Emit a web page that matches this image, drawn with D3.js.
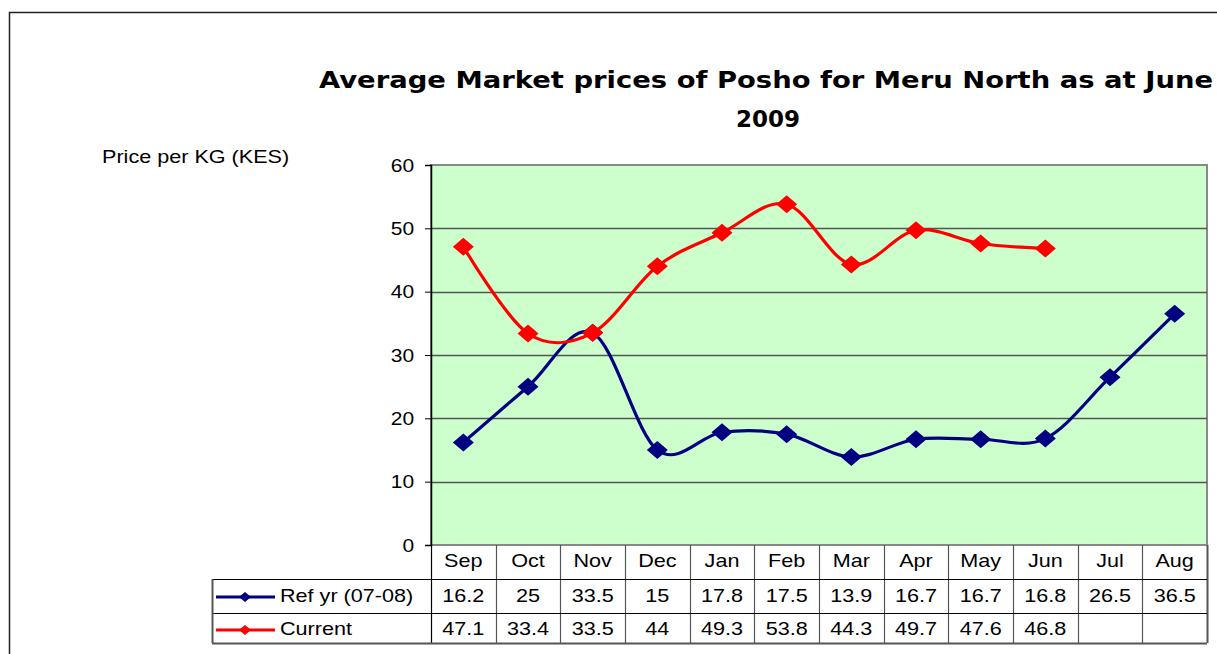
<!DOCTYPE html>
<html>
<head>
<meta charset="utf-8">
<script src="https://cdn.jsdelivr.net/npm/d3@7"></script>
<style>
  html, body { margin: 0; padding: 0; background: #fff; }
  svg { display: block; }
  text { font-family: "Liberation Sans", Arial, sans-serif; fill: #000; }
</style>
</head>
<body>
<svg id="chart" width="1217" height="654"></svg>
<script>
const months = ["Sep","Oct","Nov","Dec","Jan","Feb","Mar","Apr","May","Jun","Jul","Aug"];
const refYear = [16.2, 25, 33.5, 15, 17.8, 17.5, 13.9, 16.7, 16.7, 16.8, 26.5, 36.5];
const current = [47.1, 33.4, 33.5, 44, 49.3, 53.8, 44.3, 49.7, 47.6, 46.8, null, null];
const yTicks = [0, 10, 20, 30, 40, 50, 60];
const seriesNames = ["Ref yr (07-08)", "Current"];
const seriesColors = ["#000080", "#FF0000"];
const titleLines = ["Average Market prices of Posho for Meru North as at June", "2009"];
const yLabel = "Price per KG (KES)";

const svg = d3.select("#chart");
const plot = {left: 431, right: 1207, top: 165, bottom: 545};
const tableLeft = 212;
const rowY = [545, 579, 613, 643];
const SX = 1.2; // horizontal stretch of text as in reference

function stext(parent, xv, yv, str, size, anchor) {
  return parent.append("text")
    .attr("transform", `translate(${xv},${yv}) scale(${SX},1)`)
    .attr("text-anchor", anchor || "start")
    .style("font-size", size + "px").text(str);
}

// outer frame
svg.append("rect").attr("x", 9.5).attr("y", 12.5).attr("width", 1300).attr("height", 700)
  .attr("fill", "#fff").attr("stroke", "#222").attr("stroke-width", 1.5);

// title
svg.append("text").attr("x", 766).attr("y", 88).attr("text-anchor", "middle")
  .attr("textLength", 894).attr("lengthAdjust", "spacingAndGlyphs")
  .style("font-family", "'DejaVu Sans', sans-serif").style("font-weight", "bold").style("font-size", "23px")
  .text(titleLines[0]);
svg.append("text").attr("x", 768).attr("y", 127).attr("text-anchor", "middle")
  .style("font-family", "'DejaVu Sans', sans-serif").style("font-weight", "bold").style("font-size", "23px")
  .text(titleLines[1]);

// y label
stext(svg, 102, 163, yLabel, 18);

const x = d3.scaleBand().domain(months).range([plot.left, plot.right]);
const y = d3.scaleLinear().domain([0, 60]).range([plot.bottom, plot.top]);

// plot background
svg.append("rect").attr("x", plot.left).attr("y", plot.top)
  .attr("width", plot.right - plot.left).attr("height", plot.bottom - plot.top)
  .attr("fill", "#CCFFCC").attr("stroke", "#888").attr("stroke-width", 2);

// gridlines
svg.append("g").selectAll("line").data(yTicks.filter(d => d > 0 && d < 60)).join("line")
  .attr("x1", plot.left).attr("x2", plot.right)
  .attr("y1", d => Math.round(y(d)) + 0.5).attr("y2", d => Math.round(y(d)) + 0.5)
  .attr("stroke", "#555").attr("stroke-width", 1.5);

// y axis
const yAxis = d3.axisLeft(y).tickValues(yTicks).tickSize(6).tickPadding(8);
const ga = svg.append("g").attr("transform", `translate(${plot.left},0)`).call(yAxis);
ga.select(".domain").attr("stroke", "#000").attr("stroke-width", 1.5);
ga.selectAll(".tick line").attr("stroke", "#000");
ga.selectAll(".tick text").style("font-family", "'Liberation Sans', Arial, sans-serif")
  .style("font-size", "17.5px").attr("fill", "#000").attr("dy", "0.35em")
  .attr("transform", `scale(${SX},1)`);

// lines
const cx = d => x(d) + x.bandwidth() / 2;
function diamond(g, cxv, cyv, color, hw, hh) {
  g.append("path").attr("d", `M${cxv},${cyv - hh}L${cxv + hw},${cyv}L${cxv},${cyv + hh}L${cxv - hw},${cyv}Z`)
    .attr("fill", color);
}
[refYear, current].forEach((vals, si) => {
  const data = months.map((m, i) => ({m, v: vals[i]})).filter(d => d.v !== null);
  const line = d3.line().x(d => cx(d.m)).y(d => y(d.v))
    .curve(d3.curveCatmullRom.alpha(0));
  const g = svg.append("g");
  g.append("path").attr("d", line(data))
    .attr("fill", "none").attr("stroke", seriesColors[si]).attr("stroke-width", 3.2);
  data.forEach(d => diamond(g, cx(d.m), y(d.v), seriesColors[si], 10.5, 9));
});

// data table
const tg = svg.append("g");
const colEdges = months.map(m => x(m)).concat([plot.right]);
colEdges.forEach((xv, i) => {
  tg.append("line").attr("x1", Math.round(xv) + 0.5).attr("x2", Math.round(xv) + 0.5)
    .attr("y1", rowY[0]).attr("y2", rowY[3])
    .attr("stroke", i === 0 ? "#000" : "#555").attr("stroke-width", i === colEdges.length - 1 ? 2 : 1.2);
});
[rowY[1], rowY[2], rowY[3]].forEach((yv, i) => {
  tg.append("line").attr("x1", tableLeft).attr("x2", plot.right)
    .attr("y1", yv + 0.5).attr("y2", yv + 0.5)
    .attr("stroke", i === 2 ? "#555" : "#000").attr("stroke-width", i === 2 ? 2 : 1.2);
});
tg.append("line").attr("x1", tableLeft + 0.5).attr("x2", tableLeft + 0.5)
  .attr("y1", rowY[1]).attr("y2", rowY[3]).attr("stroke", "#555").attr("stroke-width", 2);

// month labels
months.forEach(m => stext(tg, cx(m), 567, m, 18, "middle"));
// values + legend keys
[refYear, current].forEach((vals, si) => {
  const base = si === 0 ? 602 : 635;
  months.forEach((m, i) => {
    if (vals[i] !== null) stext(tg, cx(m), base, vals[i], 18, "middle");
  });
  const ly = si === 0 ? 597 : 630;
  tg.append("line").attr("x1", 216).attr("x2", 275).attr("y1", ly).attr("y2", ly)
    .attr("stroke", seriesColors[si]).attr("stroke-width", 3);
  diamond(tg, 245, ly, seriesColors[si], 6, 5);
  stext(tg, 280, base, seriesNames[si], 18);
});
</script>
</body>
</html>
